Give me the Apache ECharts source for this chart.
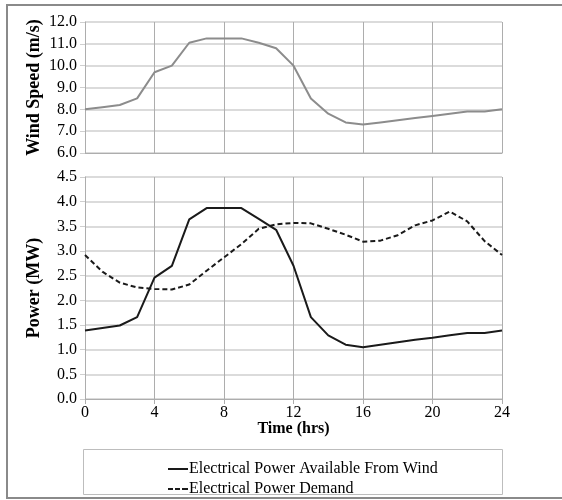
<!DOCTYPE html>
<html>
<head>
<meta charset="utf-8">
<script src="https://cdn.jsdelivr.net/npm/echarts@6/dist/echarts.min.js"></script>
<style>
  html, body { margin: 0; padding: 0; background: #fff; }
  #chart { width: 562px; height: 500px; }
</style>
</head>
<body>
<div id="chart"></div>
<script>
  // hourly readings, 0..24 hrs
  var hours = [0, 1, 2, 3, 4, 5, 6, 7, 8, 9, 10, 11, 12, 13, 14, 15, 16, 17, 18, 19, 20, 21, 22, 23, 24];
  var windSpeed = [8.0, 8.1, 8.2, 8.5, 9.7, 10.0, 11.05, 11.25, 11.25, 11.25, 11.05, 10.8, 10.0,
    8.5, 7.8, 7.4, 7.3, 7.4, 7.5, 7.6, 7.7, 7.8, 7.9, 7.9, 8.0];
  var powerWind = [1.39, 1.44, 1.49, 1.66, 2.46, 2.70, 3.64, 3.87, 3.87, 3.87, 3.65, 3.43, 2.70,
    1.66, 1.29, 1.10, 1.05, 1.10, 1.15, 1.20, 1.24, 1.29, 1.34, 1.34, 1.39];
  var powerDemand = [2.92, 2.58, 2.36, 2.26, 2.23, 2.22, 2.32, 2.60, 2.87, 3.14, 3.45, 3.54, 3.57,
    3.56, 3.45, 3.33, 3.19, 3.21, 3.32, 3.52, 3.62, 3.80, 3.60, 3.20, 2.92];
  var legendNames = ['Electrical Power Available From Wind', 'Electrical Power Demand'];

  function pairs(ys) {
    return hours.map(function (h, i) { return [h, ys[i]]; });
  }

  var serif = '"Liberation Serif", "DejaVu Serif", serif';
  var hGrid = { lineStyle: { color: '#cfcfcf', width: 1.5 } };
  var vGrid = { lineStyle: { color: '#adadad', width: 1 } };
  var legendText = { fontFamily: serif, fontSize: 16, color: '#000' };
  var yNameStyle = { fontFamily: serif, fontWeight: 'bold', fontSize: 18, color: '#000' };

  var myChart = echarts.init(document.getElementById('chart'));
  var option = {
    animation: false,
    backgroundColor: '#fff',
    textStyle: { fontFamily: serif },
    grid: [
      { left: 85, right: 60, top: 22, height: 131 },
      { left: 85, right: 60, top: 177, height: 222 }
    ],
    xAxis: [
      {
        gridIndex: 0, type: 'value', min: 0, max: 24, interval: 4,
        axisLine: { lineStyle: { color: '#adadad' } },
        axisTick: { show: false },
        axisLabel: { show: false },
        splitLine: vGrid
      },
      {
        gridIndex: 1, type: 'value', min: 0, max: 24, interval: 4,
        name: 'Time (hrs)', nameLocation: 'middle', nameGap: 22, nameMoveOverlap: false,
        nameTextStyle: { fontFamily: serif, fontWeight: 'bold', fontSize: 16, color: '#000' },
        axisLine: { lineStyle: { color: '#adadad' } },
        axisTick: { show: true, length: 5, lineStyle: { color: '#adadad' } },
        axisLabel: { fontFamily: serif, fontSize: 16, color: '#000', margin: 6 },
        splitLine: vGrid
      }
    ],
    yAxis: [
      {
        gridIndex: 0, type: 'value', min: 6, max: 12, interval: 1,
        name: 'Wind Speed (m/s)', nameLocation: 'middle', nameGap: 42, nameRotate: 90,
        nameMoveOverlap: false, nameTextStyle: yNameStyle,
        axisLine: { show: true, lineStyle: { color: '#adadad' } },
        axisTick: { show: true, length: 5, lineStyle: { color: '#cfcfcf' } },
        axisLabel: { fontFamily: serif, fontSize: 16, color: '#000', margin: 8,
          formatter: function (v) { return v.toFixed(1); } },
        splitLine: hGrid
      },
      {
        gridIndex: 1, type: 'value', min: 0, max: 4.5, interval: 0.5,
        name: 'Power (MW)', nameLocation: 'middle', nameGap: 42, nameRotate: 90,
        nameMoveOverlap: false, nameTextStyle: yNameStyle,
        axisLine: { show: true, lineStyle: { color: '#adadad' } },
        axisTick: { show: true, length: 5, lineStyle: { color: '#cfcfcf' } },
        axisLabel: { fontFamily: serif, fontSize: 16, color: '#000', margin: 8,
          formatter: function (v) { return v.toFixed(1); } },
        splitLine: hGrid
      }
    ],
    legend: [
      {
        data: [legendNames[0]], left: 163, top: 456,
        icon: 'rect', itemWidth: 20, itemHeight: 2, itemGap: 0,
        textStyle: Object.assign({ padding: [0, 0, 0, -4] }, legendText)
      },
      {
        data: [legendNames[1]], left: 163, top: 476,
        icon: 'path://M0,0h5v2h-5z M7,0h5v2h-5z M14,0h6v2h-6z',
        itemWidth: 20, itemHeight: 2, itemGap: 0,
        textStyle: Object.assign({ padding: [0, 0, 0, -4] }, legendText)
      }
    ],
    graphic: [
      { type: 'rect', shape: { x: 7, y: 5, width: 562, height: 493 },
        style: { fill: 'none', stroke: '#8a8a8a', lineWidth: 2 }, silent: true },
      { type: 'rect', shape: { x: 83.5, y: 449.5, width: 419, height: 45 },
        style: { fill: 'none', stroke: '#bdbdbd', lineWidth: 1 }, silent: true }
    ],
    series: [
      {
        name: 'Wind Speed', type: 'line', xAxisIndex: 0, yAxisIndex: 0,
        data: pairs(windSpeed), symbol: 'none',
        lineStyle: { color: '#8c8c8c', width: 2 }
      },
      {
        name: legendNames[0], type: 'line', xAxisIndex: 1, yAxisIndex: 1,
        data: pairs(powerWind), symbol: 'none',
        itemStyle: { color: '#1a1a1a' },
        lineStyle: { color: '#1a1a1a', width: 2 }
      },
      {
        name: legendNames[1], type: 'line', xAxisIndex: 1, yAxisIndex: 1,
        data: pairs(powerDemand), symbol: 'none',
        itemStyle: { color: '#1a1a1a' },
        lineStyle: { color: '#1a1a1a', width: 2, type: [5, 3] }
      }
    ]
  };
  myChart.setOption(option);
</script>
</body>
</html>
